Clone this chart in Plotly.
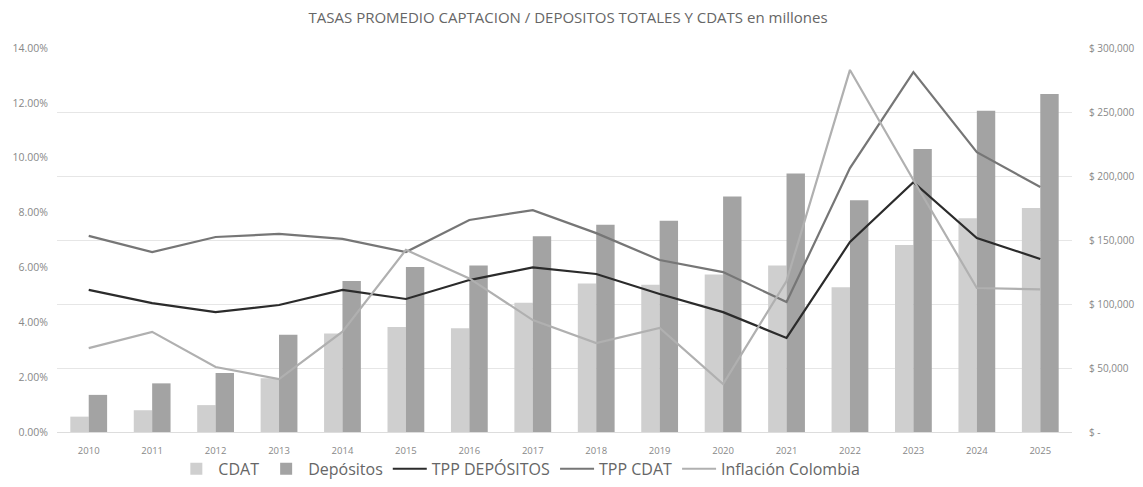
import plotly.graph_objects as go

# ── Data ──────────────────────────────────────────────────────────────────────
years = [str(y) for y in range(2010, 2026)]

cdat = [12000, 17000, 21000, 42000, 77000, 82000, 81000, 101000,
        116000, 115000, 123000, 130000, 113000, 146000, 167000, 175000]
depositos = [29000, 38000, 46000, 76000, 118000, 129000, 130000, 153000,
             162000, 165000, 184000, 202000, 181000, 221000, 251000, 264000]

tpp_depositos = [5.18, 4.70, 4.37, 4.63, 5.18, 4.85, 5.54, 6.00,
                 5.76, 5.03, 4.37, 3.43, 6.93, 9.11, 7.07, 6.31]
tpp_cdat = [7.15, 6.56, 7.11, 7.22, 7.04, 6.56, 7.73, 8.09,
            7.25, 6.27, 5.83, 4.74, 9.62, 13.12, 10.20, 8.93]
inflacion = [3.06, 3.65, 2.37, 1.93, 3.66, 6.64, 5.60, 4.08,
             3.24, 3.79, 1.75, 5.50, 13.20, 9.19, 5.25, 5.20]

pct_ticks = [0, 2, 4, 6, 8, 10, 12, 14]
pct_labels = [f"{v:.2f}%" for v in pct_ticks]
money_ticks = [0, 50000, 100000, 150000, 200000, 250000, 300000]
money_labels = ["$ -"] + [f"$ {v:,}" for v in money_ticks[1:]]

# ── Figure ────────────────────────────────────────────────────────────────────
fig = go.Figure()

# bars on the primary axis, lines on the overlaying axis so they draw on top
fig.add_trace(go.Bar(x=years, y=cdat, name="CDAT",
                     marker=dict(color="#cfcfcf", line=dict(width=0))))
fig.add_trace(go.Bar(x=years, y=depositos, name="Depósitos",
                     marker=dict(color="#a3a3a3", line=dict(width=0))))

fig.add_trace(go.Scatter(x=years, y=tpp_depositos, name="TPP DEPÓSITOS", yaxis="y2",
                         mode="lines", line=dict(color="#2b2b2b", width=2.2)))
fig.add_trace(go.Scatter(x=years, y=tpp_cdat, name="TPP CDAT", yaxis="y2",
                         mode="lines", line=dict(color="#767676", width=2.2)))
fig.add_trace(go.Scatter(x=years, y=inflacion, name="Inflación Colombia", yaxis="y2",
                         mode="lines", line=dict(color="#b0b0b0", width=2.2)))

# the page body adds an 8px offset, so margins are shifted to compensate
fig.update_layout(
    width=1143, height=487,
    paper_bgcolor="white", plot_bgcolor="white",
    font=dict(family="Open Sans, sans-serif", color="#888888", size=10),
    title=dict(text="TASAS PROMEDIO CAPTACION / DEPOSITOS TOTALES Y CDATS en millones",
               x=0.49, xanchor="center", y=0.98, yanchor="middle",
               font=dict(size=15, color="#666666")),
    margin=dict(l=49, r=79, t=40, b=63, autoexpand=False),
    barmode="group", bargap=0.42, bargroupgap=0,
    xaxis=dict(type="category", showgrid=False, showline=True, linecolor="#dddddd",
               ticks="", automargin=False, ticklabelstandoff=10,
               tickfont=dict(size=9.5, color="#888888")),
    yaxis=dict(side="right", range=[0, 300000], tickvals=money_ticks, ticktext=money_labels,
               showgrid=True, gridcolor="#e6e6e6", zeroline=False, showline=False,
               ticks="", automargin=False, ticklabelstandoff=16,
               tickfont=dict(size=10, color="#888888")),
    yaxis2=dict(side="left", overlaying="y", range=[0, 14], tickvals=pct_ticks,
                ticktext=pct_labels, showgrid=False, zeroline=False, showline=False,
                ticks="", automargin=False, ticklabelstandoff=8,
                tickfont=dict(size=10.5, color="#888888")),
    legend=dict(orientation="h", x=0.456, xanchor="center", y=-0.096, yanchor="middle",
                font=dict(size=16, color="#666666"), traceorder="normal",
                itemwidth=34, bgcolor="rgba(0,0,0,0)"),
    showlegend=True,
)

fig.write_html("out.html")
